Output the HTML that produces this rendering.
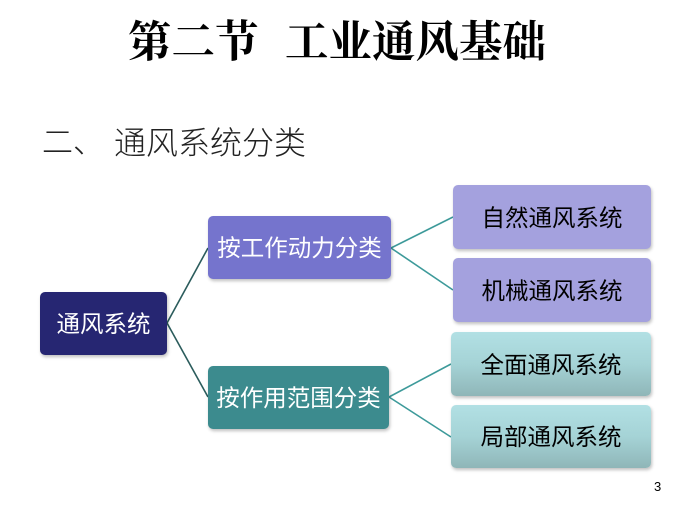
<!DOCTYPE html>
<html><head><meta charset="utf-8"><style>
html,body{margin:0;padding:0;background:#fff;}
body{width:683px;height:511px;position:relative;overflow:hidden;font-family:"Liberation Sans","Noto Sans CJK SC",sans-serif;}
.t{position:absolute;white-space:nowrap;line-height:1;}
.box{position:absolute;border-radius:5px;box-shadow:1px 2px 3px rgba(0,0,0,0.25);display:flex;align-items:center;justify-content:center;font-size:23.5px;font-family:"Liberation Sans","Noto Sans CJK SC",sans-serif;padding-bottom:3px;box-sizing:border-box;}
</style></head><body>
<div class="t" style="left:128px;top:22px;font-size:43.5px;font-weight:700;font-family:'Liberation Serif','Noto Serif CJK SC',serif;color:#000;">第二节</div>
<div class="t" style="left:285px;top:22px;font-size:43.5px;font-weight:700;font-family:'Liberation Serif','Noto Serif CJK SC',serif;color:#000;">工业通风基础</div>
<div class="t" style="left:42px;top:127px;font-size:31px;color:#222;font-weight:300;">二、</div>
<div class="t" style="left:114px;top:127px;font-size:32px;color:#222;font-weight:300;">通风系统分类</div>

<svg width="683" height="511" style="position:absolute;left:0;top:0">
<line x1="167" y1="323" x2="208" y2="248" stroke="#2b5c5c" stroke-width="1.6"/>
<line x1="167" y1="323" x2="208" y2="397" stroke="#2b5c5c" stroke-width="1.6"/>
<line x1="391" y1="248" x2="453" y2="217" stroke="#3d9a9a" stroke-width="1.6"/>
<line x1="391" y1="248" x2="453" y2="290" stroke="#3d9a9a" stroke-width="1.6"/>
<line x1="389" y1="397" x2="451" y2="364" stroke="#3d9a9a" stroke-width="1.6"/>
<line x1="389" y1="397" x2="451" y2="437" stroke="#3d9a9a" stroke-width="1.6"/>
</svg>

<div class="box" style="left:40px;top:292px;width:127px;height:63px;background:#262672;color:#fff;">通风系统</div>
<div class="box" style="left:208px;top:216px;width:183px;height:63px;background:#7574cd;color:#fff;">按工作动力分类</div>
<div class="box" style="left:208px;top:366px;width:181px;height:63px;background:#3c8b8e;color:#fff;">按作用范围分类</div>

<div class="box" style="left:453px;top:185px;width:198px;height:64px;background:#a4a1de;color:#000;">自然通风系统</div>
<div class="box" style="left:453px;top:258px;width:198px;height:64px;background:#a4a1de;color:#000;">机械通风系统</div>
<div class="box" style="left:451px;top:332px;width:200px;height:64px;background:linear-gradient(#b2e0e4,#a5d3d6 50%,#8fb6b8);color:#000;">全面通风系统</div>
<div class="box" style="left:451px;top:405px;width:200px;height:63px;background:linear-gradient(#b2e0e4,#a5d3d6 50%,#8fb6b8);color:#000;">局部通风系统</div>

<div class="t" style="left:654px;top:480px;font-size:13px;color:#000;">3</div>
</body></html>
